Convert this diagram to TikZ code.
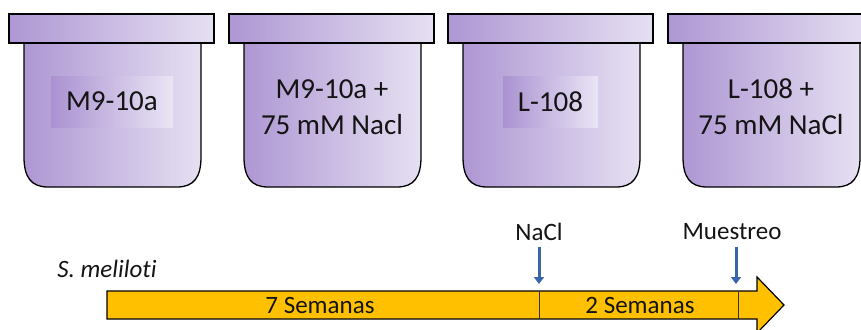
\documentclass[tikz,border=0pt]{standalone}
\usepackage{fontspec}
\setmainfont{Carlito}[Ligatures=NoCommon]
\usetikzlibrary{arrows.meta}
\definecolor{vialL}{RGB}{174,151,211}
\definecolor{vialR}{RGB}{230,224,242}
\definecolor{tagL}{RGB}{170,146,209}
\definecolor{tagR}{RGB}{234,229,245}
\definecolor{timeline}{RGB}{255,192,0}
\definecolor{marker}{RGB}{58,100,172}
\definecolor{ink}{RGB}{20,20,20}
\tikzset{
  vialfill/.style={left color=vialL, right color=vialR, draw=black, line width=1.3pt},
  tag/.style={left color=tagL, right color=tagR, minimum height=51pt, inner sep=0pt, text=ink, font=\fontsize{29}{36}\selectfont},
  medium/.style={text=ink, align=center, font=\fontsize{29}{36}\selectfont},
  stage/.style={text=ink, font=\fontsize{25}{30}\selectfont},
  markarrow/.style={draw=marker, line width=3pt, -{Triangle[width=10pt,length=7pt]}},
  divider/.style={draw=black!80, line width=0.8pt}
}
% one culture vial: body with rounded bottom, then the rim on top
\newcommand{\drawvial}[1]{%
  \pgfmathsetmacro{\vl}{#1+15}\pgfmathsetmacro{\vr}{#1+192}%
  \path[vialfill] (\vl,43) -- (\vl,157) .. controls (\vl,177) and (\vl+7,187) .. (\vl+24,187)
    -- (\vr-24,187) .. controls (\vr-7,187) and (\vr,177) .. (\vr,157) -- (\vr,43) -- cycle;
  \path[vialfill] (#1,14) rectangle (#1+205,43);%
}
\begin{document}
\begin{tikzpicture}[x=1pt,y=-1pt]
\useasboundingbox (0,0) rectangle (861,329);
\drawvial{9}
\drawvial{229}
\drawvial{448}
\drawvial{668}
\node[tag, minimum width=122pt] (m9) at (112,101.5) {M9-10a};
\node[medium] (m9nacl) at (332,107) {M9-10a +\\75 mM Nacl};
\node[tag, minimum width=95pt] (l108) at (550.5,101.5) {L-108};
\node[medium] (l108nacl) at (771,107) {L-108 +\\75 mM NaCl};

% timeline arrow
\path[fill=timeline, draw=black, line width=1.2pt, line join=miter]
  (107,291) -- (757,291) -- (757,277) -- (784,305) -- (757,333) -- (757,319) -- (107,319) -- cycle;
\coordinate (d1a) at (539,291); \coordinate (d1b) at (539,319);
\coordinate (d2a) at (738,291); \coordinate (d2b) at (738,319);
\draw[divider] (d1a) -- (d1b);
\draw[divider] (d2a) -- (d2b);
\node[stage] (w7) at (320,305) {7 Semanas};
\node[stage] (w2) at (640,305) {2 Semanas};
\node[stage, font=\fontsize{25}{30}\selectfont\itshape] (sm) at (107,269) {S. meliloti};

% events on the timeline
\node[stage] (nacl) at (539,232) {NaCl};
\node[stage] (muestreo) at (732,232) {Muestreo};
\coordinate (naclA) at (539,247); \coordinate (naclB) at (539,284);
\coordinate (muA) at (736,247); \coordinate (muB) at (736,284);
\draw[markarrow] (naclA) -- (naclB);
\draw[markarrow] (muA) -- (muB);
\end{tikzpicture}
\end{document}
